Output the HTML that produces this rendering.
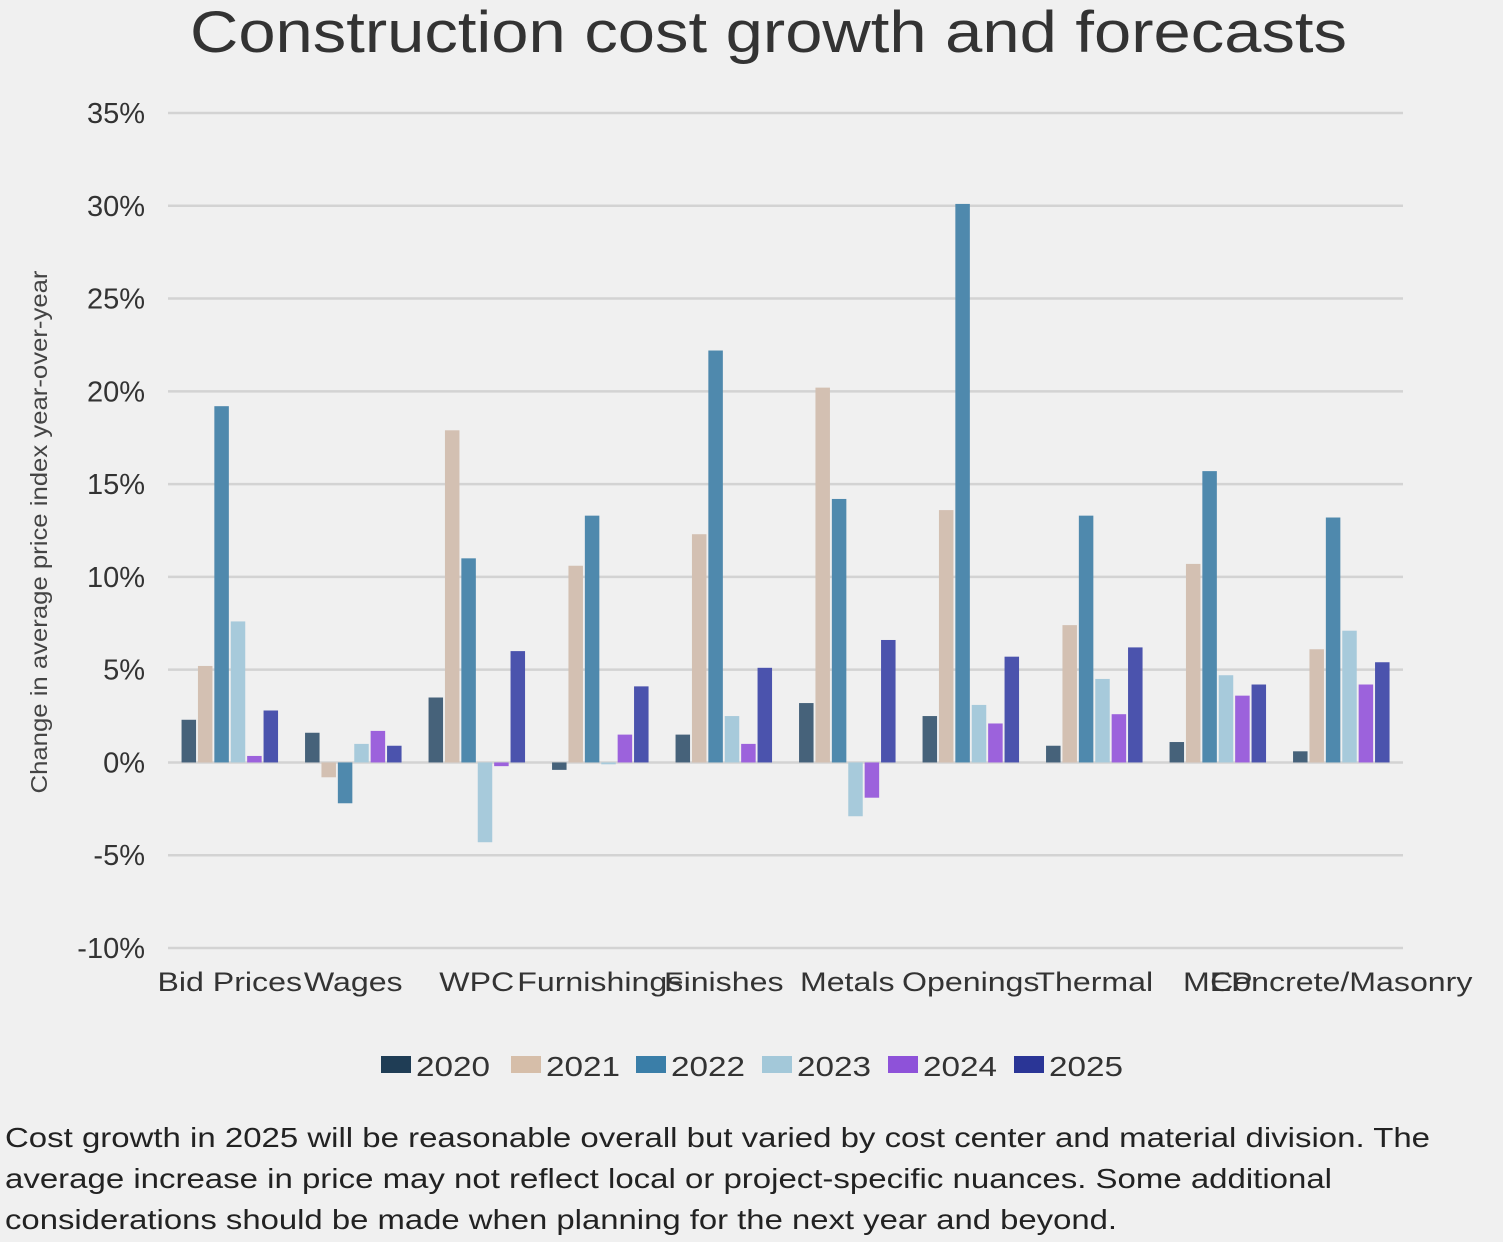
<!DOCTYPE html>
<html><head><meta charset="utf-8"><style>
html,body{margin:0;padding:0;background:#f0f0f0;}
svg{display:block;font-family:"Liberation Sans",sans-serif;}
</style></head><body>
<svg id="chart" width="1503" height="1242" viewBox="0 0 1503 1242">
<rect x="0" y="0" width="1503" height="1242" fill="#f0f0f0"/>
<text x="190" y="52" textLength="1157" lengthAdjust="spacingAndGlyphs" font-size="58" fill="#333">Construction cost growth and forecasts</text>
<text transform="translate(47,532) rotate(-90)" text-anchor="middle" textLength="523" lengthAdjust="spacingAndGlyphs" font-size="23" fill="#444">Change in average price index year-over-year</text>
<g id="grid"></g><g id="bars"></g><g id="xlabels"></g><g id="legend"></g>
<g font-size="28" fill="#222">
<text x="5" y="1147" textLength="1425" lengthAdjust="spacingAndGlyphs">Cost growth in 2025 will be reasonable overall but varied by cost center and material division. The</text>
<text x="5" y="1188" textLength="1327" lengthAdjust="spacingAndGlyphs">average increase in price may not reflect local or project-specific nuances. Some additional</text>
<text x="5" y="1229" textLength="1112" lengthAdjust="spacingAndGlyphs">considerations should be made when planning for the next year and beyond.</text>
</g>
</svg>
<script>
const categories=["Bid Prices","Wages","WPC","Furnishings","Finishes","Metals","Openings","Thermal","MEP","Concrete/Masonry"];
const years=["2020","2021","2022","2023","2024","2025"];
const s2020=[2.3,1.6,3.5,-0.4,1.5,3.2,2.5,0.9,1.1,0.6];
const s2021=[5.2,-0.8,17.9,10.6,12.3,20.2,13.6,7.4,10.7,6.1];
const s2022=[19.2,-2.2,11.0,13.3,22.2,14.2,30.1,13.3,15.7,13.2];
const s2023=[7.6,1.0,-4.3,-0.1,2.5,-2.9,3.1,4.5,4.7,7.1];
const s2024=[0.35,1.7,-0.2,1.5,1.0,-1.9,2.1,2.6,3.6,4.2];
const s2025=[2.8,0.9,6.0,4.1,5.1,6.6,5.7,6.2,4.2,5.4];
const yTicks=[35,30,25,20,15,10,5,0,-5,-10];
const series=[s2020,s2021,s2022,s2023,s2024,s2025];
const barColors=["#46627a","#d3c0b2","#4f89ad","#a7cadb","#9c62dc","#4b53ad"];
const legColors=["#1f3d55","#d6bea9","#3a7ea8","#a3c8d9","#8e52d9","#2a3596"];
const NS="http://www.w3.org/2000/svg";
const X0=168,X1=1403,yMin=-10,yMax=35,Ytop=113,Ybot=948;
const y=v=>Ybot-(v-yMin)/(yMax-yMin)*(Ybot-Ytop);
const band=(X1-X0)/categories.length;
const gx=i=>X0+band*i;
function mk(t,a,p){const e=document.createElementNS(NS,t);for(const k in a)e.setAttribute(k,a[k]);p.appendChild(e);return e;}
const grid=document.getElementById('grid');
yTicks.forEach(t=>{
 const l=mk('line',{x1:X0,x2:X1,y1:y(t),y2:y(t),stroke:'#d3d3d3','stroke-width':2.5},grid);
 
 
 const tx=mk('text',{x:145,y:y(t)+10,'text-anchor':'end','font-size':29,fill:'#333'},grid);
 tx.textContent=t+'%';
 
 
});
const bars=document.getElementById('bars');
const stride=16.4,bw=14.5;
categories.forEach((c,i)=>{
 const start=gx(i)+band/2-stride*3+1;
 series.forEach((s,j)=>{
  const v=s[i];const top=y(Math.max(v,0)),bot=y(Math.min(v,0));
  const r=mk('rect',{x:start+stride*j,y:top,width:bw,height:Math.max(bot-top,0.5),fill:barColors[j]},bars);
  
  
 });
 const tx=mk('text',{x:gx(i)+band/2,y:991,'text-anchor':'middle','font-size':27,fill:'#333'},document.getElementById('xlabels'));
 tx.textContent=c;
 tx.setAttribute('transform','translate('+(gx(i)+band/2)+',0) scale(1.19,1) translate('+(-(gx(i)+band/2))+',0)');
 
 
});
const leg=document.getElementById('legend');
const legX=[381,511,636,762,888,1014];
years.forEach((yr,j)=>{
 const g=mk('g',{},leg);
 
 
 mk('rect',{x:legX[j],y:1056,width:30,height:17,fill:legColors[j]},g);
 const t=mk('text',{x:legX[j]+35,y:1076,'font-size':28,fill:'#333',textLength:74,lengthAdjust:'spacingAndGlyphs'},g);
 t.textContent=yr;
});
</script>
</body></html>
